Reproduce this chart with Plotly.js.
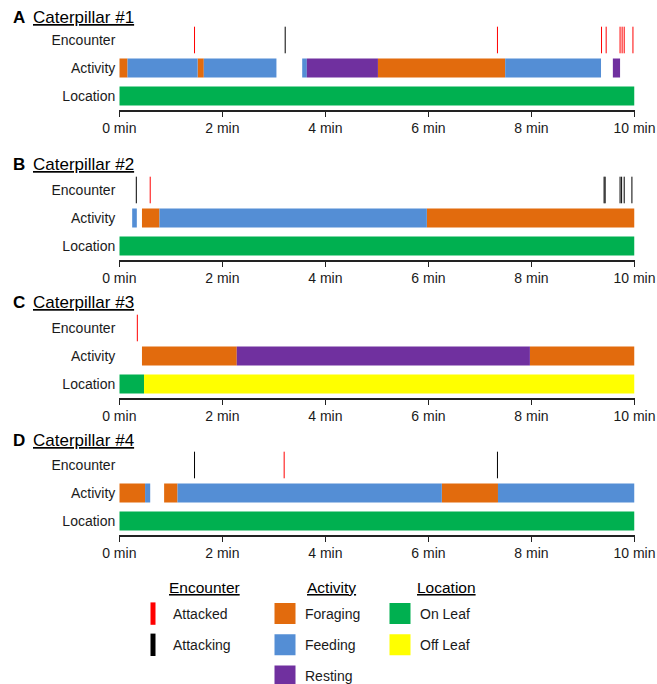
<!DOCTYPE html>
<html><head><meta charset="utf-8">
<script src="https://cdn.plot.ly/plotly-3.0.1.min.js"></script>
<style>html,body{margin:0;padding:0;background:#fff}#chart{width:657px;height:684px}</style>
</head><body><div id="chart"></div>
<script>
// ---- data ----
const rowLabels = ['Location', 'Activity', 'Encounter'];
const xTickVals = [0, 2, 4, 6, 8, 10];
const xTickText = ['0 min', '2 min', '4 min', '6 min', '8 min', '10 min'];
const panelLetters = ['A', 'B', 'C', 'D'];
const panelTitles = ['Caterpillar #1', 'Caterpillar #2', 'Caterpillar #3', 'Caterpillar #4'];

const enc1Time = [1.46, 3.22, 7.34, 9.36, 9.45, 9.72, 9.76, 9.80, 9.97];
const enc1Type = ['Attacked', 'Attacking', 'Attacked', 'Attacked', 'Attacked', 'Attacked', 'Attacked', 'Attacked', 'Attacked'];
const act1Start = [0, 0.16, 1.52, 1.64, 3.55, 3.64, 5.02, 7.49, 9.58];
const act1End = [0.16, 1.52, 1.64, 3.05, 3.64, 5.02, 7.49, 9.35, 9.72];
const act1Type = ['Foraging', 'Feeding', 'Foraging', 'Feeding', 'Feeding', 'Resting', 'Foraging', 'Feeding', 'Resting'];
const loc1Start = [0];
const loc1End = [10];
const loc1Type = ['On Leaf'];

const enc2Time = [0.33, 0.60, 9.41, 9.43, 9.72, 9.75, 9.80, 9.95];
const enc2Type = ['Attacking', 'Attacked', 'Attacking', 'Attacking', 'Attacking', 'Attacking', 'Attacking', 'Attacking'];
const act2Start = [0.25, 0.44, 0.78, 5.97];
const act2End = [0.34, 0.78, 5.97, 10];
const act2Type = ['Feeding', 'Foraging', 'Feeding', 'Foraging'];
const loc2Start = [0];
const loc2End = [10];
const loc2Type = ['On Leaf'];

const enc3Time = [0.35];
const enc3Type = ['Attacked'];
const act3Start = [0.44, 2.28, 7.97];
const act3End = [2.28, 7.97, 10];
const act3Type = ['Foraging', 'Resting', 'Foraging'];
const loc3Start = [0, 0.48];
const loc3End = [0.48, 10];
const loc3Type = ['On Leaf', 'Off Leaf'];

const enc4Time = [1.46, 3.20, 7.34];
const enc4Type = ['Attacking', 'Attacked', 'Attacking'];
const act4Start = [0, 0.50, 0.87, 1.13, 6.26, 7.35];
const act4End = [0.50, 0.60, 1.13, 6.26, 7.35, 10];
const act4Type = ['Foraging', 'Feeding', 'Foraging', 'Feeding', 'Foraging', 'Feeding'];
const loc4Start = [0];
const loc4End = [10];
const loc4Type = ['On Leaf'];

const encounterCats = ['Attacked', 'Attacking'];
const activityCats = ['Foraging', 'Feeding', 'Resting'];
const locationCats = ['On Leaf', 'Off Leaf'];
const legendHeaders = ['Encounter', 'Activity', 'Location'];

// ---- styling ----
const FONT = 'Arial, "Liberation Sans", Helvetica, sans-serif';
const colors = {
  'Attacked': '#FF0000', 'Attacking': '#000000',
  'Foraging': '#E26B0D', 'Feeding': '#548ED5', 'Resting': '#70309F',
  'On Leaf': '#00B050', 'Off Leaf': '#FFFF00'
};
const W = 657, H = 684;
const plotLeft = 119.3, plotRight = 634.5;
const panelPx = [[26, 110], [176, 260], [314, 398], [451, 535]];
const titlePx = [18, 165, 303, 440];

const panels = [
  {enc: [enc1Time, enc1Type], act: [act1Start, act1End, act1Type], loc: [loc1Start, loc1End, loc1Type]},
  {enc: [enc2Time, enc2Type], act: [act2Start, act2End, act2Type], loc: [loc2Start, loc2End, loc2Type]},
  {enc: [enc3Time, enc3Type], act: [act3Start, act3End, act3Type], loc: [loc3Start, loc3End, loc3Type]},
  {enc: [enc4Time, enc4Type], act: [act4Start, act4End, act4Type], loc: [loc4Start, loc4End, loc4Type]}
];

const traces = [];
const layout = {
  width: W, height: H,
  margin: {l: 0, r: 0, t: 0, b: 0, autoexpand: false},
  paper_bgcolor: '#fff', plot_bgcolor: 'rgba(0,0,0,0)',
  barmode: 'overlay',
  hovermode: false,
  font: {family: FONT, size: 14, color: '#1a1a1a'},
  annotations: [],
  showlegend: true
};

function segTraces(seg, rowIdx, cats, xa, ya) {
  const [st, en, ty] = seg;
  cats.forEach(c => {
    const idx = ty.map((t, i) => t === c ? i : -1).filter(i => i >= 0);
    if (!idx.length) return;
    traces.push({
      type: 'bar', orientation: 'h',
      y: idx.map(() => rowIdx),
      base: idx.map(i => st[i]),
      x: idx.map(i => en[i] - st[i]),
      width: 0.68,
      marker: {color: colors[c], line: {width: 0}},
      xaxis: xa, yaxis: ya, showlegend: false, name: c
    });
  });
}

panels.forEach((p, k) => {
  const n = k === 0 ? '' : String(k + 1);
  const xa = 'x' + n, ya = 'y' + n;
  segTraces(p.loc, 0, locationCats, xa, ya);
  segTraces(p.act, 1, activityCats, xa, ya);
  const [tm, ty] = p.enc;
  encounterCats.forEach(c => {
    const idx = ty.map((t, i) => t === c ? i : -1).filter(i => i >= 0);
    if (!idx.length) return;
    traces.push({
      type: 'scatter', mode: 'markers',
      x: idx.map(i => tm[i]), y: idx.map(() => 2),
      marker: {symbol: 'line-ns-open', size: 19, color: colors[c], line: {width: 1, color: colors[c]}},
      xaxis: xa, yaxis: ya, showlegend: false, name: c
    });
  });
  const [top, bot] = panelPx[k];
  layout['xaxis' + n] = {
    domain: [plotLeft / W, plotRight / W], anchor: ya,
    range: [0, 10], tickmode: 'array', tickvals: xTickVals, ticktext: xTickText,
    showline: true, linecolor: '#222', linewidth: 1.5,
    ticks: 'outside', ticklen: 5, tickwidth: 1.5, tickcolor: '#222',
    showgrid: false, zeroline: false, fixedrange: true,
    tickfont: {size: 14, color: '#1a1a1a'}
  };
  layout['yaxis' + n] = {
    domain: [1 - bot / H, 1 - top / H], anchor: xa,
    range: [-0.5, 2.5], tickmode: 'array', tickvals: [0, 1, 2], ticktext: rowLabels,
    showline: false, showgrid: false, zeroline: false, ticks: '',
    ticklabelstandoff: 3, fixedrange: true,
    tickfont: {size: 14, color: '#1a1a1a'}
  };
  layout.annotations.push({
    xref: 'paper', yref: 'paper', x: 19 / W, y: 1 - titlePx[k] / H,
    xanchor: 'center', yanchor: 'middle', showarrow: false,
    text: '<b>' + panelLetters[k] + '</b>', font: {size: 17, color: '#000'}
  });
  layout.annotations.push({
    xref: 'paper', yref: 'paper', x: 31 / W, y: 1 - titlePx[k] / H,
    xanchor: 'left', yanchor: 'middle', showarrow: false,
    text: '<u>' + panelTitles[k] + '</u>', font: {size: 17, color: '#000'}
  });
});

// ---- legends ----
const legendCols = [
  {cats: encounterCats, key: 'legend', left: 133, header: 204, symbol: 'line-ns-open'},
  {cats: activityCats, key: 'legend2', left: 265, header: 331, symbol: 'square'},
  {cats: locationCats, key: 'legend3', left: 380, header: 446, symbol: 'square'}
];
legendCols.forEach((col, j) => {
  col.cats.forEach(c => {
    traces.push({
      type: 'scatter', mode: 'markers', x: [null], y: [null],
      name: c, legend: col.key, legendgroup: c, showlegend: true,
      marker: col.symbol === 'square'
        ? {symbol: 'square', size: 16, color: colors[c], line: {width: 5, color: colors[c]}}
        : {symbol: 'line-ns-open', size: 21, color: colors[c], line: {width: 5, color: colors[c]}},
      xaxis: 'x', yaxis: 'y', hoverinfo: 'skip'
    });
  });
  layout[col.key] = {
    x: col.left / W, y: 1 - 598 / H, xanchor: 'left', yanchor: 'top',
    bgcolor: 'rgba(0,0,0,0)', borderwidth: 0,
    tracegroupgap: 10, itemclick: false, itemdoubleclick: false,
    font: {size: 14, color: '#1a1a1a'}
  };
  layout.annotations.push({
    xref: 'paper', yref: 'paper', x: col.header / W, y: 1 - 587 / H,
    xanchor: 'center', yanchor: 'middle', showarrow: false,
    text: '<u>' + legendHeaders[j] + '</u>', font: {size: 15.5, color: '#000'}
  });
});

Plotly.newPlot('chart', traces, layout, {displayModeBar: false, staticPlot: true});
</script></body></html>
